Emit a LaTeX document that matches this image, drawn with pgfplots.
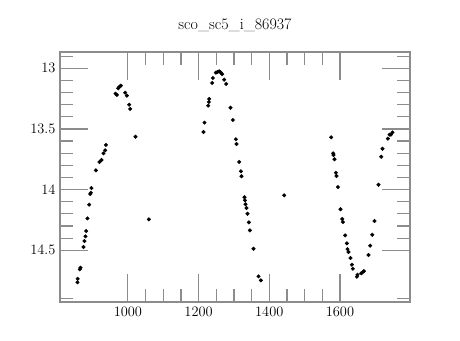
\documentclass[border=0pt]{standalone}
\usepackage{pgfplots}
\pgfplotsset{compat=1.18}
\begin{document}
\begin{tikzpicture}
\useasboundingbox (-60pt,-38pt) rectangle (400pt,302pt);
\begin{axis}[
  at={(0pt,0pt)}, anchor=south west,
  scale only axis, width=350pt, height=250pt,
  xmin=808, xmax=1798, ymin=12.866, ymax=14.926,
  y dir=reverse,
  xtick={1000,1200,1400,1600}, minor x tick num=3,
  ytick={13,13.5,14,14.5}, minor y tick num=4,
  extra y ticks={12.9,14.9}, extra y tick labels={},
  extra y tick style={tickwidth=13pt},
  tick align=inside, xtick pos=both, ytick pos=both,
  tickwidth=28pt, subtickwidth=13pt,
  axis line style={black!45, line width=1.6pt},
  every tick/.append style={black!45, line width=1.2pt},
  tick label style={font=\fontsize{15}{17}\selectfont},
  xticklabel style={yshift=-2pt},
  yticklabel style={xshift=-1pt},
  xticklabel={\pgfmathprintnumber[fixed,1000 sep={}]{\tick}},
  title={sco\_sc5\_i\_86937},
  title style={at={(0.5,1)}, anchor=base, yshift=17pt, font=\fontsize{16}{18}\selectfont},
]
\addplot[only marks, mark=*, mark size=1.8pt, black] coordinates {
(857.4,14.764)(858,14.735)(864,14.657)(866,14.644)(874.4,14.473)(877.2,14.424)
(880,14.385)(882,14.341)(885.7,14.237)(890.5,14.124)(893.4,14.036)(895.3,14.026)
(897,13.987)(909.5,13.841)(919.7,13.772)(925.3,13.756)(931,13.701)(935.8,13.676)
(937.8,13.632)(964.9,13.209)(968.9,13.220)(972.6,13.165)(976.2,13.152)(980.2,13.143)
(992.4,13.201)(997.2,13.226)(1003.7,13.300)(1006.5,13.335)(1021.5,13.564)(1059.4,14.245)
(1213.9,13.525)(1216.8,13.448)(1227.2,13.308)(1229.1,13.278)(1230,13.253)
(1238.5,13.121)(1240.4,13.080)(1248.9,13.036)(1253.5,13.031)(1258.3,13.025)
(1262,13.033)(1266.8,13.049)(1272.4,13.094)(1278.1,13.129)(1290.2,13.325)
(1297,13.426)(1305.5,13.585)(1307.2,13.624)(1314.9,13.772)(1319.7,13.849)
(1321.4,13.890)(1329.9,14.063)(1331,14.088)(1332.7,14.121)(1335.5,14.152)
(1338.3,14.199)(1342.3,14.270)(1345.1,14.336)(1355.3,14.487)(1369.5,14.715)
(1376.2,14.748)(1442.1,14.047)
(1575.1,13.569)(1580.8,13.701)(1581.6,13.715)(1584.4,13.750)(1588.4,13.861)
(1590.1,13.888)(1594.1,13.979)(1601.4,14.162)(1606.2,14.242)(1608.2,14.267)
(1614.7,14.377)(1619.5,14.443)(1621.2,14.490)(1624,14.514)(1629.7,14.564)
(1633.7,14.619)(1636.5,14.652)(1647.8,14.718)(1649.5,14.702)(1660,14.690)
(1663.7,14.682)(1667.6,14.671)(1680.6,14.539)(1685.4,14.462)(1691.1,14.372)
(1697.6,14.259)(1708.9,13.960)(1716.5,13.729)(1720.2,13.663)(1735.5,13.580)
(1740,13.547)(1744,13.547)(1748.5,13.528)
};
\end{axis}
\end{tikzpicture}
\end{document}
